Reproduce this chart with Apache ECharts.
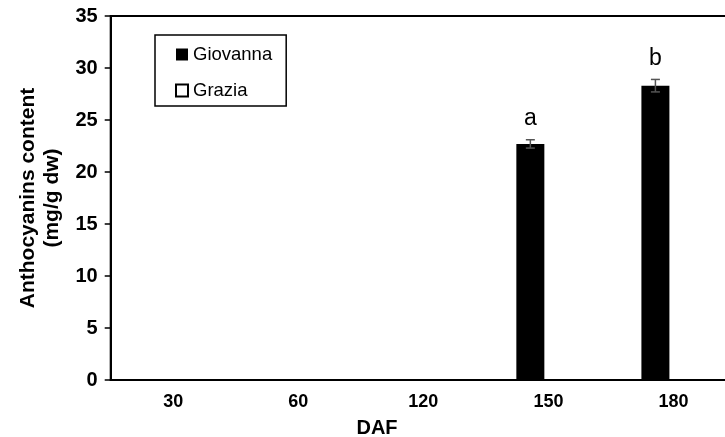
<!DOCTYPE html>
<html><head><meta charset="utf-8">
<script src="https://cdn.jsdelivr.net/npm/echarts@6/dist/echarts.min.js"></script>
<style>html,body{margin:0;padding:0;background:#fff}#c{width:725px;height:437px}</style>
</head><body><div id="c"></div>
<script>
// ---- data ----
const categories = ['30', '60', '120', '150', '180'];
const giovanna = [0, 0, 0, 22.7, 28.3];
const giovannaErr = [0, 0, 0, 0.4, 0.6];
const grazia = [0, 0, 0, 0, 0];
const sigLetters = ['', '', '', 'a', 'b'];
const yMin = 0, yMax = 35, yInterval = 5;
const seriesNames = ['Giovanna', 'Grazia'];
const xTitle = 'DAF';
const yTitle = 'Anthocyanins content\n(mg/g dw)';

// ---- style ----
const FONT = '"Liberation Sans", Arial, Helvetica, sans-serif';
const BAR_W = 28, BAR_GAP = 0.29;
const offset0 = -(BAR_W * 2 + BAR_W * BAR_GAP) / 2 + BAR_W / 2;

const chart = echarts.init(document.getElementById('c'), null, {renderer: 'canvas'});

const errData = giovanna.map((v, i) => [i, v, giovannaErr[i]]);

chart.setOption({
  animation: false,
  backgroundColor: '#fff',
  grid: {left: 110.7, right: -11, top: 16, bottom: 57, show: true, borderColor: '#000', borderWidth: 2,
         containLabel: false, outerBoundsMode: 'none'},
  legend: {
    data: seriesNames,
    orient: 'vertical', left: 155, top: 35,
    padding: [10, 14, 6, 20],
    itemWidth: 12, itemHeight: 12, itemGap: 17,
    borderColor: '#000', borderWidth: 1.5,
    icon: 'rect',
    textStyle: {fontFamily: FONT, fontSize: 18.5, color: '#000'}
  },
  xAxis: {
    type: 'category', data: categories,
    axisLine: {lineStyle: {color: '#000', width: 2}},
    axisTick: {show: false},
    axisLabel: {fontFamily: FONT, fontSize: 18, fontWeight: 'bold', color: '#000', margin: 13},
    splitLine: {show: false}
  },
  yAxis: {
    type: 'value', min: yMin, max: yMax, interval: yInterval,
    axisLine: {show: true, lineStyle: {color: '#000', width: 2}},
    axisTick: {show: true, inside: false, length: 6, lineStyle: {color: '#000', width: 1.5}},
    axisLabel: {fontFamily: FONT, fontSize: 20, fontWeight: 'bold', color: '#000', margin: 13},
    splitLine: {show: false}
  },
  graphic: [
    {type: 'text', x: 40, y: 198, rotation: Math.PI / 2,
     style: {text: yTitle, align: 'center', verticalAlign: 'middle', lineHeight: 24,
             font: 'bold 21px ' + FONT, fill: '#000'}},
    {type: 'text', x: 377, y: 428,
     style: {text: xTitle, align: 'center', verticalAlign: 'middle',
             font: 'bold 20px ' + FONT, fill: '#000'}}
  ],
  series: [
    {name: seriesNames[0], type: 'bar', data: giovanna, barWidth: BAR_W, barGap: (BAR_GAP * 100) + '%',
     itemStyle: {color: '#000'}},
    {name: seriesNames[1], type: 'bar', data: grazia, barWidth: BAR_W,
     itemStyle: {color: '#fff', borderColor: '#000', borderWidth: 1}},
    {name: 'err', type: 'custom', data: errData, z: 10,
     renderItem: function (params, api) {
       const i = api.value(0), v = api.value(1), e = api.value(2);
       if (!v) return null;
       const top = api.coord([i, v + e]);
       const bot = api.coord([i, v - e]);
       const x = top[0] + offset0;
       const cap = 4.5;
       const st = {stroke: '#555', lineWidth: 1.5};
       return {type: 'group', children: [
         {type: 'line', shape: {x1: x, y1: top[1], x2: x, y2: bot[1]}, style: st},
         {type: 'line', shape: {x1: x - cap, y1: top[1], x2: x + cap, y2: top[1]}, style: st},
         {type: 'line', shape: {x1: x - cap, y1: bot[1], x2: x + cap, y2: bot[1]}, style: st},
         {type: 'text', x: x, y: top[1] - 9.5,
          style: {text: sigLetters[params.dataIndex], align: 'center', verticalAlign: 'bottom',
                  font: '23px ' + FONT, fill: '#000'}}
       ]};
     }}
  ]
});
</script></body></html>
